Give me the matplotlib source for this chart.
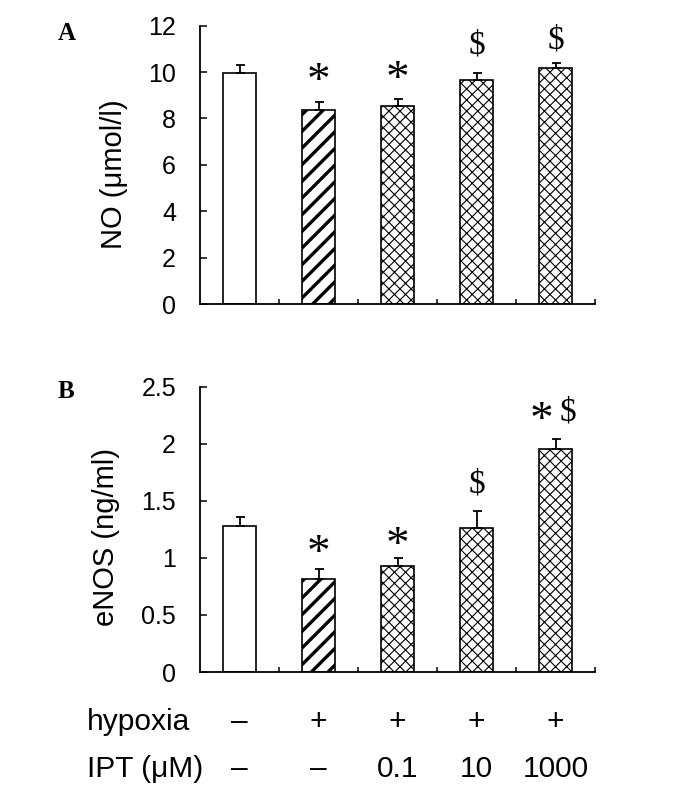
import matplotlib
matplotlib.use("Agg")
import matplotlib.pyplot as plt
from matplotlib.transforms import blended_transform_factory

# ---- data ----
groups = ["ctrl", "hypoxia", "IPT 0.1", "IPT 10", "IPT 1000"]
no_vals = [9.95, 8.37, 8.54, 9.66, 10.16]
no_errs = [0.35, 0.35, 0.30, 0.30, 0.22]
enos_vals = [1.28, 0.815, 0.93, 1.26, 1.95]
enos_errs = [0.08, 0.09, 0.07, 0.15, 0.095]
no_marks = ["", "*", "*", "$", "$"]
enos_marks = ["", "*", "*", "$", "*$"]
hypoxia_row = ["–", "+", "+", "+", "+"]
ipt_row = ["–", "–", "0.1", "10", "1000"]
hatches = [None, "//", "xxx", "xxx", "xxx"]

W, H = 688, 785
fig = plt.figure(figsize=(W / 100, H / 100), dpi=100)

sans = ["Liberation Sans", "DejaVu Sans"]
serif = ["Liberation Serif", "DejaVu Serif"]

def px(v):  # pixels -> points
    return v * 72 / 100

def star(ax, i, y, dx, dy):
    ax.annotate("*", (i, y), xytext=(px(dx), px(dy)), textcoords="offset points",
                ha="center", va="baseline", fontsize=34, family=serif)

def dollar(ax, i, y, dx, dy):
    ax.annotate("$", (i, y), xytext=(px(dx), px(dy)), textcoords="offset points",
                ha="center", va="baseline", fontsize=24, family=serif)

def make_panel(rect, vals, errs, marks, ylim, yticks, ylabel, label_x, label_y, mark_offsets):
    ax = fig.add_axes(rect)
    x = list(range(len(vals)))
    for i, (v, h) in enumerate(zip(vals, hatches)):
        lw_h = 2.4 if h == "//" else 0.8
        with plt.rc_context({"hatch.linewidth": lw_h, "hatch.color": "black"}):
            b = ax.bar(i, v, width=0.41, color="white", edgecolor="black",
                       linewidth=1.2, hatch=h, zorder=2)
        for p in b.patches:
            if hasattr(p, "set_hatch_linewidth"):
                p.set_hatch_linewidth(lw_h)
    ax.errorbar(x, vals, yerr=[[0] * len(vals), errs], fmt="none",
                ecolor="black", elinewidth=1.3, capsize=px(4.5), capthick=1.3, zorder=3)
    for i, (m, v, e) in enumerate(zip(marks, vals, errs)):
        top = v + e
        off = mark_offsets[i]
        if m == "*":
            star(ax, i, top, 0, off)
        elif m == "$":
            dollar(ax, i, top, 0, off)
        elif m == "*$":
            star(ax, i, top, -14.5, off - 12)
            dollar(ax, i, top, 12.5, off)
    ax.set_xlim(-0.5, len(vals) - 0.5)
    ax.set_ylim(*ylim)
    ax.set_yticks(yticks)
    ax.set_yticklabels([("%g" % t) for t in yticks], family=sans, fontsize=18)
    ax.set_xticks([i + 0.5 for i in range(len(vals))])
    ax.set_xticklabels([])
    ax.tick_params(axis="y", direction="in", length=px(7), width=1.1, pad=px(24))
    ax.tick_params(axis="x", direction="in", length=px(5), width=1.1)
    for s in ["top", "right"]:
        ax.spines[s].set_visible(False)
    for s in ["left", "bottom"]:
        ax.spines[s].set_linewidth(1.3)
    ax.set_ylabel(ylabel, family=sans, fontsize=21)
    ax.yaxis.set_label_coords(label_x, label_y)
    return ax

axA = make_panel([200 / W, 1 - 304 / H, 395 / W, (304 - 25.7) / H],
                 no_vals, no_errs, no_marks, (0, 12), [0, 2, 4, 6, 8, 10, 12],
                 "NO (μmol/l)", -0.183, 0.467, [0, 7.5, 7.3, 20, 15])
axB = make_panel([200 / W, 1 - 672 / H, 395 / W, (672 - 386.7) / H],
                 enos_vals, enos_errs, enos_marks, (0, 2.5), [0, 0.5, 1, 1.5, 2, 2.5],
                 "eNOS (ng/ml)", -0.203, 0.473, [0, 3, 0, 19, 18])

fig.text(58 / W, 1 - 40 / H, "A", family=serif, fontweight="bold", fontsize=18,
         ha="left", va="baseline")
fig.text(58 / W, 1 - 398 / H, "B", family=serif, fontweight="bold", fontsize=18,
         ha="left", va="baseline")

tr = blended_transform_factory(axB.transData, fig.transFigure)
y1 = 1 - 730 / H
y2 = 1 - 777 / H
fig.text(87 / W, y1, "hypoxia", family=sans, fontsize=21.5, ha="left", va="baseline")
fig.text(87 / W, y2, "IPT (μM)", family=sans, fontsize=21.5, ha="left", va="baseline")
for i, (hs, it) in enumerate(zip(hypoxia_row, ipt_row)):
    fig.text(i, y1, hs, transform=tr, family=sans, fontsize=21.5,
             ha="center", va="baseline")
    fig.text(i, y2, it, transform=tr, family=sans, fontsize=21.5,
             ha="center", va="baseline")

fig.savefig("out.png", dpi=100)
